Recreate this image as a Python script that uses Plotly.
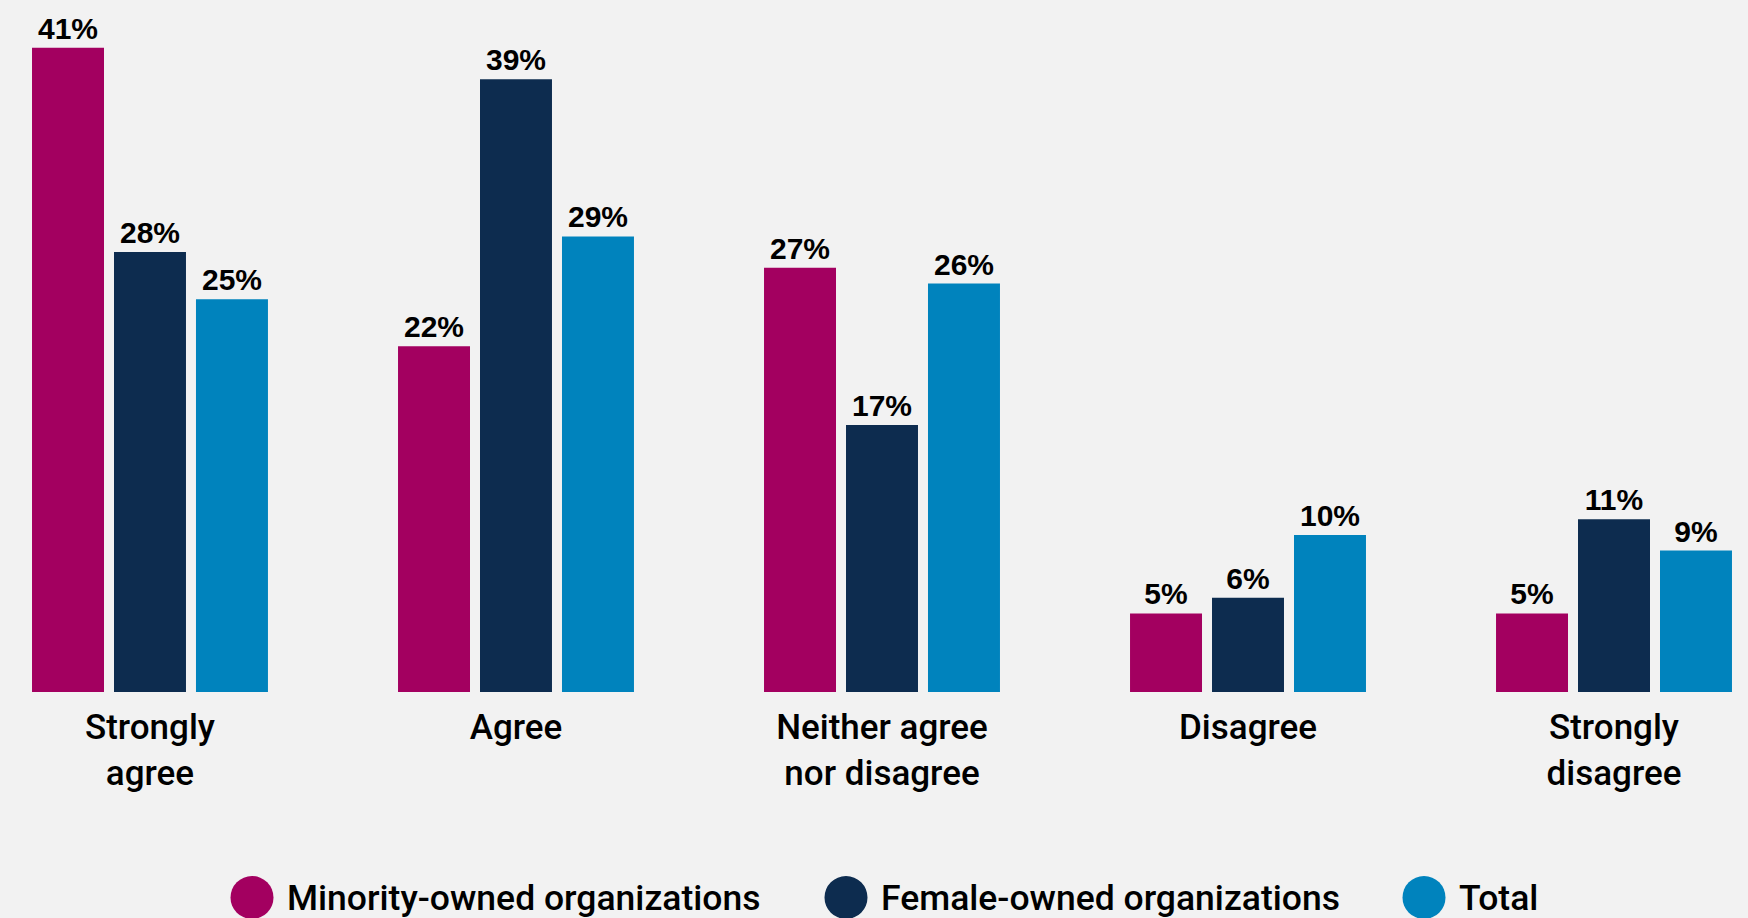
import plotly.graph_objects as go

# Survey responses by ownership group (percent of respondents)
categories = ["Strongly<br>agree", "Agree", "Neither agree<br>nor disagree", "Disagree", "Strongly<br>disagree"]
minority_owned = [41, 22, 27, 5, 5]
female_owned = [28, 39, 17, 6, 11]
total = [25, 29, 26, 10, 9]

series_names = ["Minority-owned organizations", "Female-owned organizations", "Total"]
series_colors = ["#A30060", "#0D2C4F", "#0083BD"]
series_values = [minority_owned, female_owned, total]

W, H = 1748, 918
M_TOP, M_BOTTOM = 10, 226
BG = "#F2F2F2"

fig = go.Figure()
for name, color, vals in zip(series_names, series_colors, series_values):
    fig.add_trace(go.Bar(
        x=list(range(len(categories))),
        y=vals,
        name=name,
        marker=dict(color=color, line=dict(width=0)),
        texttemplate="%{y}%",
        textposition="outside",
        constraintext="none",
        cliponaxis=False,
        textfont=dict(family="Liberation Sans, Arial, sans-serif", size=30, color="#000000", weight="bold"),
        hoverinfo="skip",
        showlegend=False,
    ))

fig.update_layout(
    width=W, height=H,
    margin=dict(l=0, r=0, t=M_TOP, b=M_BOTTOM, pad=0),
    paper_bgcolor=BG, plot_bgcolor=BG,
    barmode="group", bargap=0.328, bargroupgap=0.122,
    xaxis=dict(
        tickmode="array",
        tickvals=list(range(len(categories))),
        ticktext=categories,
        range=[-0.4098, 4.3661],
        showgrid=False, zeroline=False, showline=False, ticks="",
        ticklabelstandoff=11,
        tickfont=dict(family="Roboto, Liberation Sans, sans-serif", size=35, color="#000000", weight=500),
    ),
    yaxis=dict(range=[0, 43.41], visible=False, showgrid=False, zeroline=False),
)

# Custom legend: large filled circles with labels underneath the chart
plot_h = H - M_TOP - M_BOTTOM
legend_y = (H - M_BOTTOM - 897.5) / plot_h
circle_px = [252, 846, 1424]
radius = 21.5
for name, color, cx in zip(series_names, series_colors, circle_px):
    fig.add_shape(
        type="circle", xref="paper", yref="paper",
        xsizemode="pixel", ysizemode="pixel",
        xanchor=cx / W, yanchor=legend_y,
        x0=-radius, x1=radius, y0=-radius, y1=radius,
        fillcolor=color, line=dict(width=0),
    )
    fig.add_annotation(
        x=(cx + 33) / W, y=legend_y, xref="paper", yref="paper",
        xanchor="left", yanchor="middle", showarrow=False,
        text=name,
        font=dict(family="Roboto, Liberation Sans, sans-serif", size=35.5, color="#000000", weight=500),
    )

fig.write_html("out.html")
